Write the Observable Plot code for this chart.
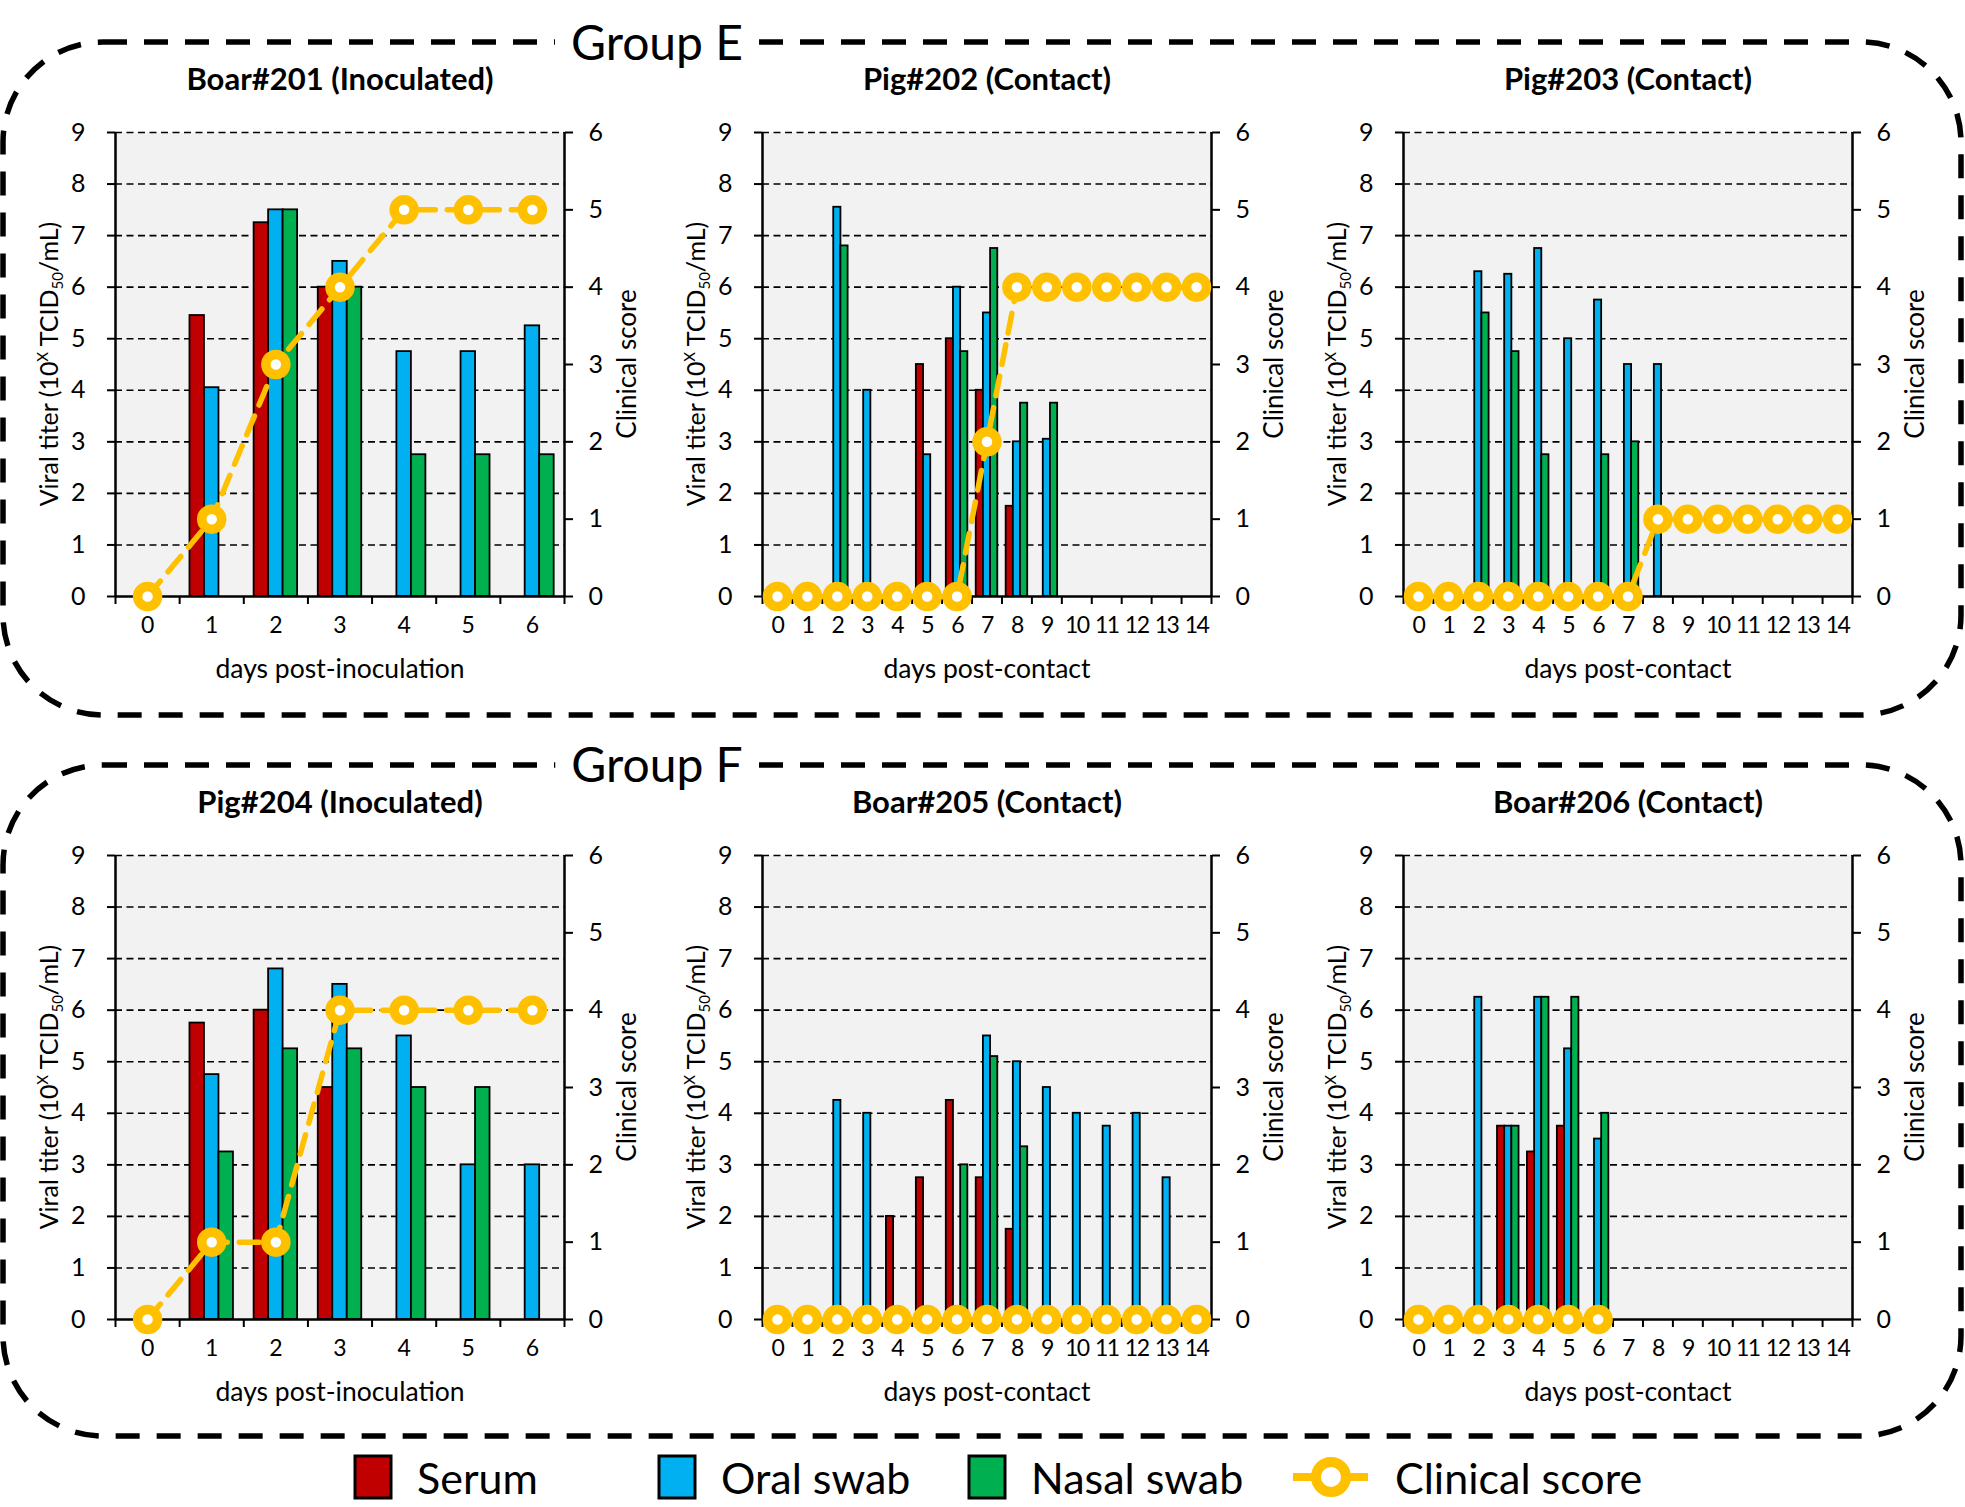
<!DOCTYPE html>
<html><head><meta charset="utf-8">
<script src="https://cdn.jsdelivr.net/npm/d3@7"></script>
<script src="https://cdn.jsdelivr.net/npm/@observablehq/plot@0.6"></script>
<style>
body{margin:0;background:#fff;}
#root{position:relative;width:1965px;height:1507px;font-family:Lato,sans-serif;overflow:hidden;}
#root svg{position:absolute;}
</style></head><body><div id="root"></div>
<script>
// ---------- data ----------
const daysInoc = [0, 1, 2, 3, 4, 5, 6];
const daysContact = [0, 1, 2, 3, 4, 5, 6, 7, 8, 9, 10, 11, 12, 13, 14];
const groupNames = ["Group E", "Group F"];
const panelTitles = ["Boar#201 (Inoculated)", "Pig#202 (Contact)", "Pig#203 (Contact)",
                     "Pig#204 (Inoculated)", "Boar#205 (Contact)", "Boar#206 (Contact)"];
const xLabels = ["days post-inoculation", "days post-contact", "days post-contact",
                 "days post-inoculation", "days post-contact", "days post-contact"];
const seriesNames = ["Serum", "Oral swab", "Nasal swab"];
const seriesColors = ["#C00000", "#00B0F0", "#00B050"];
const scoreName = "Clinical score";
const scoreColor = "#FFC000";
const titerTicks = [0, 1, 2, 3, 4, 5, 6, 7, 8, 9];
const scoreTicks = [0, 1, 2, 3, 4, 5, 6];

// Boar#201
const serum201 = [null, 5.45, 7.25, 6.0, null, null, null];
const oral201  = [null, 4.05, 7.5, 6.5, 4.75, 4.75, 5.25];
const nasal201 = [null, null, 7.5, 6.0, 2.75, 2.75, 2.75];
const score201 = [0, 1, 3, 4, 5, 5, 5];
// Pig#202
const serum202 = [null, null, null, null, null, 4.5, 5.0, 4.0, 1.75, null, null, null, null, null, null];
const oral202  = [null, null, 7.55, 4.0, null, 2.75, 6.0, 5.5, 3.0, 3.05, null, null, null, null, null];
const nasal202 = [null, null, 6.8, null, null, null, 4.75, 6.75, 3.75, 3.75, null, null, null, null, null];
const score202 = [0, 0, 0, 0, 0, 0, 0, 2, 4, 4, 4, 4, 4, 4, 4];
// Pig#203
const serum203 = [null, null, null, null, null, null, null, null, null, null, null, null, null, null, null];
const oral203  = [null, null, 6.3, 6.25, 6.75, 5.0, 5.75, 4.5, 4.5, null, null, null, null, null, null];
const nasal203 = [null, null, 5.5, 4.75, 2.75, null, 2.75, 3.0, null, null, null, null, null, null, null];
const score203 = [0, 0, 0, 0, 0, 0, 0, 0, 1, 1, 1, 1, 1, 1, 1];
// Pig#204
const serum204 = [null, 5.75, 6.0, 4.5, null, null, null];
const oral204  = [null, 4.75, 6.8, 6.5, 5.5, 3.0, 3.0];
const nasal204 = [null, 3.25, 5.25, 5.25, 4.5, 4.5, null];
const score204 = [0, 1, 1, 4, 4, 4, 4];
// Boar#205
const serum205 = [null, null, null, null, 2.0, 2.75, 4.25, 2.75, 1.75, null, null, null, null, null, null];
const oral205  = [null, null, 4.25, 4.0, null, null, null, 5.5, 5.0, 4.5, 4.0, 3.75, 4.0, 2.75, null];
const nasal205 = [null, null, null, null, null, null, 3.0, 5.1, 3.35, null, null, null, null, null, null];
const score205 = [0, 0, 0, 0, 0, 0, 0, 0, 0, 0, 0, 0, 0, 0, 0];
// Boar#206
const serum206 = [null, null, null, 3.75, 3.25, 3.75, null, null, null, null, null, null, null, null, null];
const oral206  = [null, null, 6.25, 3.75, 6.25, 5.25, 3.5, null, null, null, null, null, null, null, null];
const nasal206 = [null, null, null, 3.75, 6.25, 6.25, 4.0, null, null, null, null, null, null, null, null];
const score206 = [0, 0, 0, 0, 0, 0, 0];

const panels = [
  {days: daysInoc, series: [serum201, oral201, nasal201], score: score201},
  {days: daysContact, series: [serum202, oral202, nasal202], score: score202},
  {days: daysContact, series: [serum203, oral203, nasal203], score: score203},
  {days: daysInoc, series: [serum204, oral204, nasal204], score: score204},
  {days: daysContact, series: [serum205, oral205, nasal205], score: score205},
  {days: daysContact, series: [serum206, oral206, nasal206], score: score206}
];

// ---------- layout ----------
const root = document.getElementById("root");
const W = 660, ML = 115, MR = 96, MT = 92, PH = 464, MB = 112, H = MT + PH + MB;
const lefts = [0, 647, 1288];
const tops = [40, 763];
const scoreToTiter = 9 / 6;

// background: dashed group boxes, group labels, legend
const bg = d3.select(root).append("svg").attr("width", 1965).attr("height", 1507)
  .style("left", "0px").style("top", "0px");
const boxes = [{y: 42, h: 673, ty: 60}, {y: 765, h: 671, ty: 782}];
boxes.forEach((b, i) => {
  bg.append("rect").attr("x", 3).attr("y", b.y).attr("width", 1958).attr("height", b.h)
    .attr("rx", 100).attr("ry", 100).attr("fill", "none").attr("stroke", "black")
    .attr("stroke-width", 5.5).attr("stroke-dasharray", "24,17");
  const bgRect = bg.append("rect").attr("fill", "white");
  const t = bg.append("text").attr("x", 657).attr("y", b.ty).attr("text-anchor", "middle")
    .attr("font-family", "Lato, sans-serif").attr("font-size", 48).attr("fill", "black").text(groupNames[i]);
  const bb = t.node().getBBox();
  bgRect.attr("x", bb.x - 16).attr("y", b.y - 10).attr("width", bb.width + 32).attr("height", 20);
});

// legend
const lg = bg.append("g").attr("font-family", "Lato, sans-serif").attr("font-size", 43);
const legendX = [355, 659, 969];
seriesNames.forEach((s, i) => {
  lg.append("rect").attr("x", legendX[i]).attr("y", 1456).attr("width", 36).attr("height", 42)
    .attr("fill", seriesColors[i]).attr("stroke", "black").attr("stroke-width", 3);
  lg.append("text").attr("x", legendX[i] + 62).attr("y", 1494).text(s);
});
lg.append("line").attr("x1", 1293).attr("x2", 1368).attr("y1", 1477).attr("y2", 1477)
  .attr("stroke", scoreColor).attr("stroke-width", 8);
lg.append("circle").attr("cx", 1331).attr("cy", 1477).attr("r", 15).attr("fill", "white")
  .attr("stroke", scoreColor).attr("stroke-width", 10);
lg.append("text").attr("x", 1395).attr("y", 1494).text(scoreName);

// ---------- panels ----------
panels.forEach((p, pi) => {
  const n = p.days.length;
  const bw = n > 7 ? 0.24 : 0.226;
  const rows = [];
  p.series.forEach((arr, si) => arr.forEach((v, i) => {
    if (v != null) rows.push({day: p.days[i], value: v, s: si});
  }));
  const scores = p.score.map((v, i) => ({day: p.days[i], score: v}));
  const bounds = d3.range(n + 1).map(i => i - 0.5);

  const barMarks = [0, 1, 2].map(si => Plot.rect(rows.filter(r => r.s === si), {
    x1: d => d.day + (si - 1.5) * bw, x2: d => d.day + (si - 0.5) * bw,
    y1: 0, y2: "value", fill: seriesColors[si], stroke: "black", strokeWidth: 1.8
  }));

  const chart = Plot.plot({
    width: W, height: H, marginLeft: ML, marginRight: MR, marginTop: MT, marginBottom: MB,
    style: {fontFamily: "Lato, sans-serif", fontSize: "25px", color: "black", background: "transparent", overflow: "visible"},
    x: {type: "linear", domain: [-0.5, n - 0.5]},
    y: {domain: [0, 9]},
    marks: [
      Plot.frame({fill: "#F2F2F2", stroke: "none"}),
      Plot.ruleY(titerTicks.filter(t => t > 0), {stroke: "black", strokeWidth: 1.6, strokeDasharray: "7,4.5"}),
      ...barMarks,
      Plot.ruleX([-0.5, n - 0.5], {stroke: "black", strokeWidth: 2.5}),
      Plot.ruleY([0], {stroke: "black", strokeWidth: 2.5}),
      Plot.axisY({anchor: "left", ticks: titerTicks, tickSize: 8, tickPadding: 22, label: null, strokeWidth: 2, fontSize: 25}),
      Plot.axisY({anchor: "right", ticks: scoreTicks.map(v => v * scoreToTiter),
        tickFormat: d => Math.round(d / scoreToTiter), tickSize: 8, tickPadding: 16, label: null, strokeWidth: 2, fontSize: 25}),
      Plot.axisX({ticks: bounds, tickFormat: () => "", tickSize: 8, label: null, strokeWidth: 2}),
      Plot.axisX({ticks: p.days, tickFormat: d => d, tickSize: 0, tickPadding: 20, label: null, fontSize: 23}),
      Plot.line(scores, {x: "day", y: d => d.score * scoreToTiter, stroke: scoreColor, strokeWidth: 5.5, strokeDasharray: "20,12"}),
      Plot.dot(scores, {x: "day", y: d => d.score * scoreToTiter, r: 10, fill: "white", stroke: scoreColor, strokeWidth: 9.5}),
      Plot.text([panelTitles[pi]], {text: d => d, frameAnchor: "top", dy: -52, fontWeight: "bold", fontSize: 31, lineAnchor: "middle"}),
      Plot.text([xLabels[pi]], {text: d => d, frameAnchor: "bottom", dy: 73, fontSize: 26.5, lineAnchor: "middle"})
    ]
  });
  const svg = d3.select(chart);
  // tighten two-digit day labels so they do not run together
  svg.selectAll('[aria-label="x-axis tick label"] text').attr("letter-spacing", n > 7 ? -1.5 : 0);
  chart.style.left = lefts[pi % 3] + "px";
  chart.style.top = tops[Math.floor(pi / 3)] + "px";
  // left axis title with superscript / subscript
  const cy = MT + PH / 2;
  const lt = svg.append("text").attr("transform", `translate(${ML - 66},${cy}) rotate(-90)`)
    .attr("text-anchor", "middle").attr("dy", "0.35em").attr("font-size", 25).attr("fill", "black");
  lt.append("tspan").text("Viral titer (10");
  lt.append("tspan").attr("font-size", 15).attr("dy", -10).text("X");
  lt.append("tspan").attr("dy", 10).text(" TCID");
  lt.append("tspan").attr("font-size", 15).attr("dy", 5).text("50");
  lt.append("tspan").attr("dy", -5).text("/mL)");
  svg.append("text").attr("transform", `translate(${ML + 449 + 63},${cy}) rotate(-90)`)
    .attr("text-anchor", "middle").attr("dy", "0.35em").attr("font-size", 26).attr("fill", "black")
    .text(scoreName);
  root.appendChild(chart);
});
</script></body></html>
